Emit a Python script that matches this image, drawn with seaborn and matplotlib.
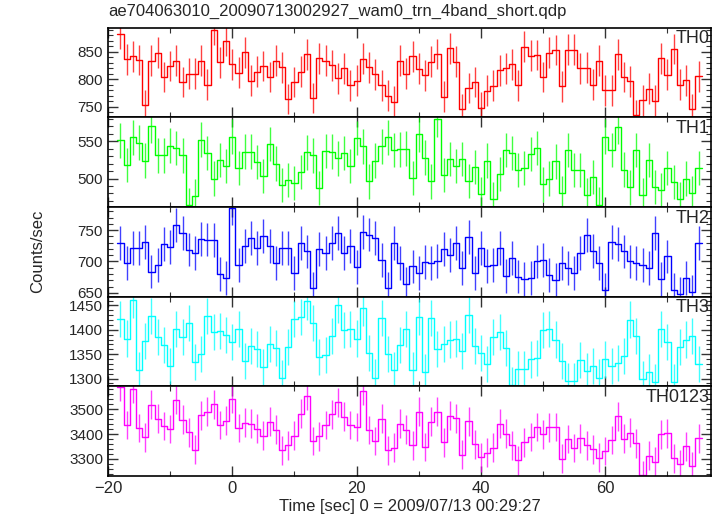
import numpy as np
import pandas as pd
import matplotlib
matplotlib.use("Agg")
import matplotlib.pyplot as plt
import seaborn as sns
from matplotlib.ticker import MultipleLocator

# Bin centres (1 s bins)
time_sec = np.arange(-18, 76)

th0 = [883, 836, 842, 835, 753, 834, 848, 804, 824, 834, 795, 810, 810, 834, 790, 890,
       831, 870, 827, 812, 849, 797, 814, 824, 804, 834, 822, 764, 795, 814, 845, 766,
       838, 834, 825, 802, 820, 789, 797, 837, 822, 809, 789, 770, 759, 834, 810,
       842, 819, 807, 832, 846, 768, 856, 832, 745, 784, 795, 748, 779, 788, 816, 820,
       827, 789, 859, 843, 844, 804, 848, 853, 787, 854, 854, 820, 821, 790, 834, 780,
       780, 845, 804, 796, 735, 762, 783, 761, 838, 808, 855, 790, 798, 746, 805]

th1 = [551, 518, 555, 548, 524, 570, 531, 531, 544, 541, 531, 464, 477, 552, 534, 500,
       525, 517, 556, 514, 536, 536, 522, 503, 546, 520, 491, 498, 494, 509, 535, 531,
       487, 537, 536, 527, 534, 517, 554, 543, 496, 524, 543, 555, 538, 539, 540,
       501, 559, 528, 496, 579, 505, 526, 517, 526, 497, 515, 479, 524, 472, 506, 538,
       534, 511, 514, 533, 541, 492, 500, 523, 481, 538, 511, 511, 478, 502, 465, 556,
       538, 569, 512, 488, 538, 478, 525, 489, 484, 514, 495, 472, 500, 481, 514]

th2 = [730, 698, 721, 722, 731, 684, 694, 728, 723, 758, 745, 719, 713, 736, 735, 734,
       680, 673, 785, 694, 724, 738, 722, 740, 725, 697, 721, 722, 682, 730, 716, 657,
       720, 713, 729, 746, 714, 724, 691, 747, 743, 737, 703, 657, 729, 697, 664,
       692, 681, 699, 697, 701, 720, 711, 730, 689, 739, 681, 722, 693, 694, 721, 677,
       706, 676, 672, 673, 700, 703, 679, 670, 697, 689, 681, 713, 742, 717, 697, 655,
       731, 728, 716, 700, 697, 695, 690, 746, 672, 708, 654, 648, 674, 651, 730]

th3 = [1423, 1382, 1462, 1318, 1376, 1428, 1386, 1368, 1326, 1402, 1386, 1413, 1334, 1350,
       1428, 1395, 1397, 1390, 1375, 1402, 1335, 1367, 1361, 1324, 1371, 1363, 1301, 1365,
       1422, 1427, 1458, 1414, 1345, 1349, 1388, 1451, 1399, 1402, 1382, 1445, 1353, 1302,
       1425, 1350, 1318, 1368, 1402,
       1318, 1427, 1313, 1425, 1360, 1371, 1380, 1382, 1356, 1431, 1367, 1352, 1330, 1386,
       1395, 1363, 1287, 1319, 1319, 1339, 1343, 1399, 1401, 1380, 1335, 1294, 1294, 1338,
       1315, 1326, 1302, 1339, 1326, 1332, 1346, 1421, 1388, 1298, 1313, 1292, 1402, 1374,
       1292, 1365, 1380, 1388, 1330]

th0123 = [3589, 3436, 3581, 3424, 3387, 3518, 3461, 3432, 3420, 3537, 3457, 3407, 3337, 3475,
          3490, 3519, 3436, 3454, 3542, 3424, 3446, 3441, 3421, 3394, 3449, 3418, 3334, 3354,
          3394, 3482, 3555, 3372, 3391, 3436, 3479, 3527, 3469, 3436, 3428, 3573, 3416, 3372,
          3461, 3334, 3345, 3441, 3418,
          3354, 3490, 3348, 3450, 3490, 3366, 3474, 3463, 3317, 3452, 3358, 3306, 3325, 3345,
          3441, 3401, 3354, 3295, 3366, 3388, 3428, 3399, 3427, 3428, 3301, 3380, 3344, 3383,
          3355, 3339, 3304, 3332, 3376, 3471, 3381, 3406, 3362, 3234, 3312, 3288, 3399, 3403,
          3303, 3278, 3351, 3270, 3383]

band_names = ["TH0", "TH1", "TH2", "TH3", "TH0123"]
band_rates = [th0, th1, th2, th3, th0123]
# typical 1-sigma error per band (counts/sec)
band_errors = [28, 23, 27, 37, 58]
band_colors = ["#ff0000", "#00ff00", "#0000ff", "#00ffff", "#ff00ff"]
band_ylims = [(731, 894), (462, 582), (644, 787), (1284, 1468), (3231, 3592)]
band_major = [50, 50, 50, 50, 100]
band_minor = [10, 10, 10, 10, 20]

sns.set_style("ticks")
plt.rcParams["font.family"] = ["Liberation Sans", "DejaVu Sans"]

fig, axes = plt.subplots(5, 1, sharex=True, figsize=(7.17, 5.16), dpi=100)
fig.subplots_adjust(left=0.1506, right=0.9916, top=0.9467, bottom=0.0775, hspace=0)

edges = np.append(time_sec - 0.5, time_sec[-1] + 0.5)

for ax, name, rates, err, col, ylim, maj, mnr in zip(
        axes, band_names, band_rates, band_errors, band_colors,
        band_ylims, band_major, band_minor):
    rates = np.asarray(rates, dtype=float)
    # step outline through the bin edges
    step_df = pd.DataFrame({
        "time": np.repeat(edges, 2)[1:-1],
        "rate": np.repeat(rates, 2),
    })
    sns.lineplot(data=step_df, x="time", y="rate", ax=ax, color=col, lw=1.0,
                 estimator=None, sort=False)
    ax.vlines(time_sec, rates - err, rates + err, color=col, lw=1.0, alpha=0.75)

    ax.set_xlim(-20, 77)
    ax.set_ylim(*ylim)
    ax.yaxis.set_major_locator(MultipleLocator(maj))
    ax.yaxis.set_minor_locator(MultipleLocator(mnr))
    ax.xaxis.set_major_locator(MultipleLocator(20))
    ax.xaxis.set_minor_locator(MultipleLocator(10))
    ax.tick_params(which="both", direction="in", top=True, right=True,
                   labelsize=11, color="#333333")
    ax.tick_params(which="major", length=7, width=1)
    ax.tick_params(which="minor", length=3.5, width=0.8)
    ax.tick_params(axis="x", labelsize=12)
    ax.set_xlabel("")
    ax.set_ylabel("")
    for sp in ax.spines.values():
        sp.set_linewidth(1.2)
        sp.set_color("black")
    ax.text(0.997, 0.97, name, transform=ax.transAxes, ha="right", va="top",
            fontsize=13)

axes[-1].set_xlabel("Time [sec] 0 = 2009/07/13 00:29:27", fontsize=12, labelpad=2)
fig.text(0.052, 0.512, "Counts/sec", rotation=90, ha="center", va="center",
         fontsize=12)
fig.text(0.1506, 0.977, "ae704063010_20090713002927_wam0_trn_4band_short.qdp",
         ha="left", va="center", fontsize=12)

fig.savefig("out.png", dpi=100)
